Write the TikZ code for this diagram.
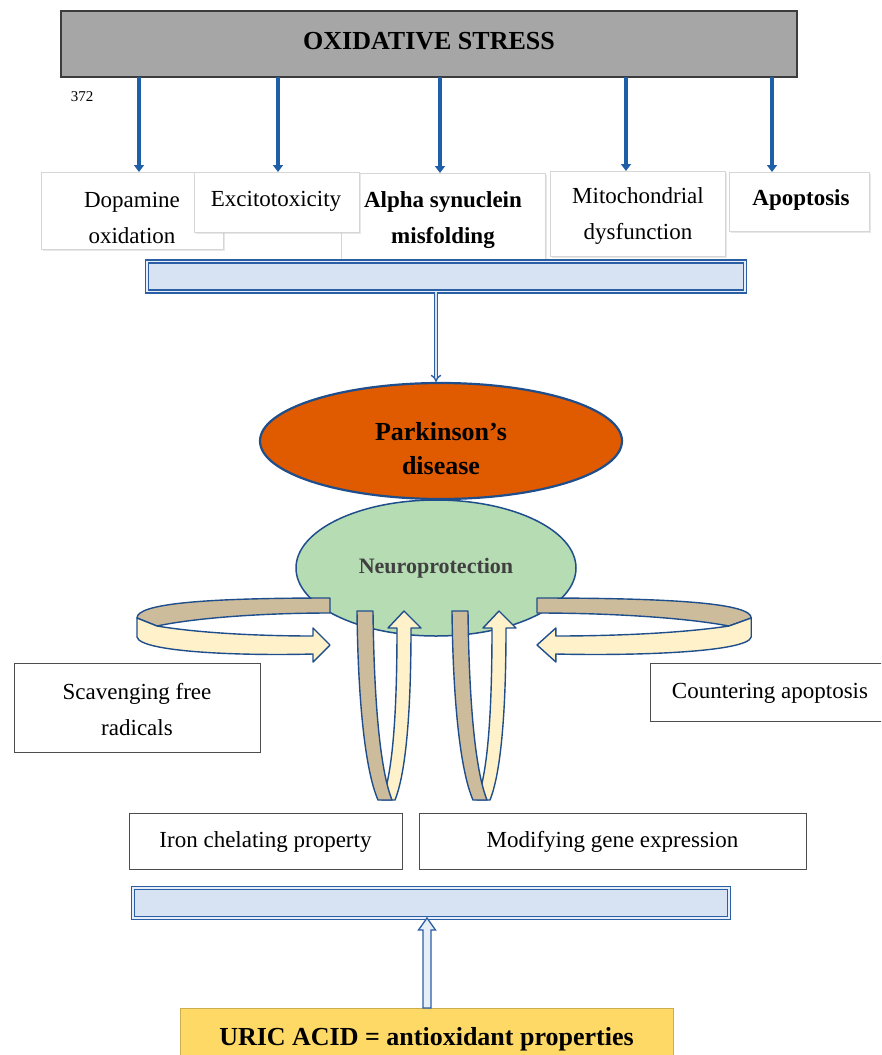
\documentclass[tikz,border=0pt]{standalone}
\usepackage{fontspec}
\setmainfont{Liberation Serif}
\usetikzlibrary{shapes.geometric,arrows.meta,calc,shadows}
\definecolor{oxgray}{HTML}{A6A6A6}
\definecolor{oxborder}{HTML}{3C3C3C}
\definecolor{arrowblue}{HTML}{1F5FA8}
\definecolor{barfill}{HTML}{D7E3F3}
\definecolor{barblue}{HTML}{2A5FA5}
\definecolor{pdorange}{HTML}{E05A00}
\definecolor{outlineblue}{HTML}{1F4E8C}
\definecolor{neugreen}{HTML}{B6DCB3}
\definecolor{tanband}{HTML}{CDBC9C}
\definecolor{creamband}{HTML}{FFF1CA}
\definecolor{uricfill}{HTML}{FFD966}
\definecolor{boxline}{HTML}{4D4D4D}
\definecolor{neutext}{HTML}{404040}
\begin{document}
\begin{tikzpicture}[x=1pt,y=-1pt,
  rect/.style={rectangle, inner sep=0pt, outer sep=0pt},
  oxbox/.style={rect, fill=oxgray, draw=oxborder, line width=1.3pt},
  topbox/.style={rect, fill=white, draw=black!16, line width=1pt,
     drop shadow={shadow xshift=1.5pt, shadow yshift=-1.5pt, opacity=0.18}},
  blkbox/.style={rect, fill=white, draw=boxline, line width=1pt},
  bar/.style={rect, fill=barfill, draw=barblue, line width=1.4pt, double=barfill!60!white, double distance=1.6pt},
  lbl/.style={font=\fontsize{23}{36}\selectfont, align=center, inner sep=0pt},
  bigbold/.style={font=\fontsize{26}{34}\selectfont\bfseries, align=center, inner sep=0pt},
  bluearrow/.style={draw=arrowblue, line width=3.5pt, -{Triangle[length=7pt,width=10pt]}},
  dblarrow/.style={draw=barblue, line width=1.4pt, double=barfill, double distance=2pt, -{Implies}},
  curlback/.style={fill=tanband, draw=outlineblue, line width=1.4pt, line join=round},
  curlfront/.style={fill=creamband, draw=outlineblue, line width=1.4pt, line join=round}
]
\useasboundingbox (0,0) rectangle (881,1055);
\clip (0,0) rectangle (881,1055);

% top box
\node[oxbox, minimum width=736pt, minimum height=66pt] (ox) at (429,44) {};
\node[bigbold] (oxt) at (429,41) {OXIDATIVE STRESS};
\node[font=\fontsize{15}{18}\selectfont, inner sep=0pt] (num) at (82,97) {372};

% cause boxes
\node[topbox, minimum width=182pt, minimum height=77pt] (dop) at (132,210.5) {};
\node[topbox, minimum width=204pt, minimum height=88pt] (alpha) at (443,217) {};
\node[topbox, minimum width=165pt, minimum height=60pt] (exc) at (276.5,202) {};
\node[topbox, minimum width=175pt, minimum height=85pt] (mito) at (637.5,213.5) {};
\node[topbox, minimum width=140pt, minimum height=59pt] (apo) at (799,201.5) {};
\node[lbl] (dopt) at (132,218) {Dopamine\\oxidation};
\node[lbl] (exct) at (276,201) {Excitotoxicity};
\node[lbl, font=\fontsize{23}{36}\selectfont\bfseries] (alphat) at (443,220) {Alpha synuclein\\misfolding};
\node[lbl] (mitot) at (638,216) {Mitochondrial\\dysfunction};
\node[lbl, font=\fontsize{23}{36}\selectfont\bfseries] (apot) at (801,200) {Apoptosis};

% arrows from oxidative stress
\coordinate (xa) at (139,0);
\coordinate (xb) at (278,0);
\coordinate (xc) at (440,0);
\coordinate (xd) at (626,0);
\coordinate (xe) at (772,0);
\draw[bluearrow] (ox.south -| xa) -- (dop.north -| xa);
\draw[bluearrow] (ox.south -| xb) -- (exc.north -| xb);
\draw[bluearrow] (ox.south -| xc) -- (alpha.north -| xc);
\draw[bluearrow] (ox.south -| xd) -- (mito.north -| xd);
\draw[bluearrow] (ox.south -| xe) -- (apo.north -| xe);

% bar 1
\node[bar, minimum width=598pt, minimum height=30pt] (bar1) at (446,276.5) {};

% neuroprotection and Parkinson's
\node[ellipse, fill=neugreen, draw=outlineblue, line width=1.5pt, inner sep=0pt, minimum width=280pt, minimum height=136pt] (neu) at (436,568) {};
\node[font=\fontsize{22}{26}\selectfont\bfseries, text=neutext, inner sep=0pt] (neut) at (436,568) {Neuroprotection};
\node[ellipse, fill=pdorange, draw=outlineblue, line width=2.2pt, inner sep=0pt, minimum width=362pt, minimum height=116pt] (pd) at (441,441) {};
\node[bigbold] (pdt) at (441,449) {Parkinson’s\\disease};

\coordinate (xf) at (436,0);
\draw[dblarrow] (bar1.south -| xf) -- (pd.north -| xf);

% curled arrows left and right
\begin{scope}[shift={(330,0)}]
\filldraw[curlback] (0,598) .. controls (-130,598) and (-193,604) .. (-193,618) -- (-173,626) .. controls (-130,617) and (-60,613) .. (0,613) -- cycle;
\filldraw[curlfront] (-193,618) -- (-173,626) .. controls (-125,634) and (-60,636) .. (-17,636) -- (-17,628) -- (0,645) -- (-17,662) -- (-17,654) .. controls (-90,656) and (-190,652) .. (-193,637) -- cycle;
\end{scope}
\begin{scope}[shift={(537,0)}, xscale=-1.11]
\filldraw[curlback] (0,598) .. controls (-130,598) and (-193,604) .. (-193,618) -- (-173,626) .. controls (-130,617) and (-60,613) .. (0,613) -- cycle;
\filldraw[curlfront] (-193,618) -- (-173,626) .. controls (-125,634) and (-60,636) .. (-17,636) -- (-17,628) -- (0,645) -- (-17,662) -- (-17,654) .. controls (-90,656) and (-190,652) .. (-193,637) -- cycle;
\end{scope}

% U-shaped arrows
\foreach \dx in {0,95}{
\begin{scope}[shift={(\dx,0)}]
\filldraw[curlfront] (382,800) .. controls (392,775) and (397,720) .. (397,628) -- (388,628) -- (404,611) -- (421,628) -- (411,628) .. controls (411,720) and (405,775) .. (395,800) -- cycle;
\filldraw[curlback] (357,611) -- (373,611) .. controls (374,700) and (380,770) .. (392,800) -- (378,800) .. controls (365,770) and (358,700) .. (357,611) -- cycle;
\end{scope}}

% mechanism boxes
\node[blkbox, minimum width=246pt, minimum height=89pt] (scav) at (137,707.5) {};
\node[lbl] (scavt) at (137,710) {Scavenging free\\radicals};
\node[blkbox, minimum width=240pt, minimum height=58pt] (count) at (770,692) {};
\node[lbl] (countt) at (770,693) {Countering apoptosis};
\node[blkbox, minimum width=273pt, minimum height=56pt] (iron) at (265.5,841) {};
\node[lbl] (iront) at (265.5,842) {Iron chelating property};
\node[blkbox, minimum width=387pt, minimum height=56pt] (modg) at (612.5,841) {};
\node[lbl] (modgt) at (612.5,842) {Modifying gene expression};

% bar 2
\node[bar, minimum width=596pt, minimum height=30pt] (bar2) at (431,903) {};

% uric acid
\node[rect, fill=uricfill, draw=uricfill!80!black, line width=0.6pt, minimum width=493pt, minimum height=62pt] (uric) at (426.5,1039) {};
\node[bigbold] (urict) at (426.5,1039) {URIC ACID = antioxidant properties};

\coordinate (xg) at (427,0);
\coordinate (ub) at (uric.north -| xg);
\coordinate (bt) at (bar2.south -| xg);
\filldraw[fill=barfill!60!white, draw=barblue, line width=1.3pt, line join=miter]
  ($(ub)+(-4,0)$) -- ($(bt)+(-4,12)$) -- ($(bt)+(-8.5,12)$) -- (bt) -- ($(bt)+(8.5,12)$) -- ($(bt)+(4,12)$) -- ($(ub)+(4,0)$) -- cycle;
\end{tikzpicture}
\end{document}
